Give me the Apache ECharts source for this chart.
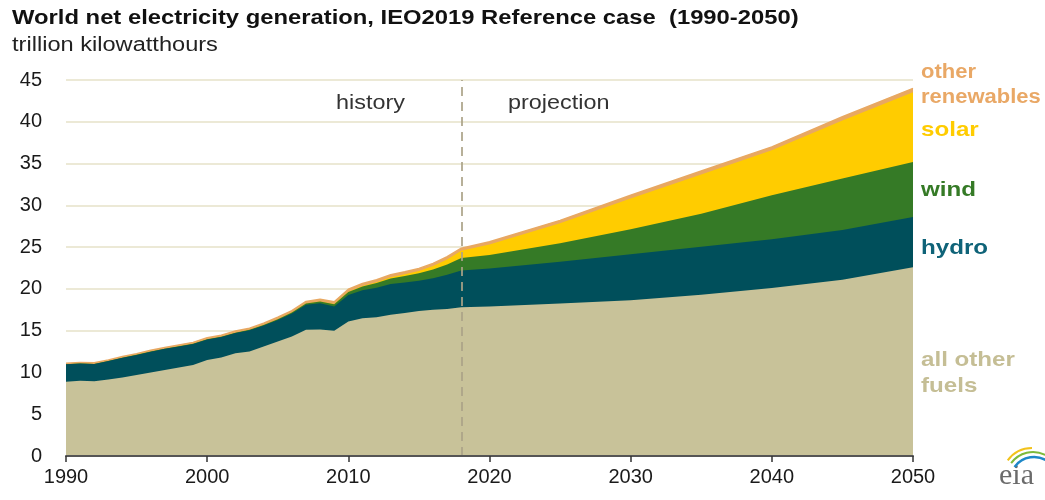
<!DOCTYPE html>
<html>
<head>
<meta charset="utf-8">
<script src="https://cdn.jsdelivr.net/npm/echarts@6/dist/echarts.min.js"></script>
<style>
html,body{margin:0;padding:0;background:#fff;}
#chart{width:1045px;height:500px;}
</style>
</head>
<body>
<div id="chart"></div>
<script>
// ---- data (trillion kWh) ----
var years = [1990,1991,1992,1993,1994,1995,1996,1997,1998,1999,
             2000,2001,2002,2003,2004,2005,2006,2007,2008,2009,
             2010,2011,2012,2013,2014,2015,2016,2017,2018,
             2020,2025,2030,2035,2040,2045,2050];
var allOtherFuels = [8.9,9.0,8.95,9.15,9.4,9.7,10.0,10.3,10.6,10.9,
                     11.5,11.8,12.3,12.5,13.1,13.7,14.3,15.1,15.15,15.0,
                     16.1,16.5,16.6,16.9,17.1,17.35,17.5,17.6,17.8,
                     17.9,18.25,18.65,19.3,20.1,21.1,22.6];
var hydro = [2.08,2.08,2.07,2.22,2.36,2.4,2.49,2.54,2.52,2.51,
             2.44,2.43,2.41,2.54,2.51,2.58,2.74,2.99,3.12,2.89,
             3.18,3.34,3.54,3.69,3.66,3.62,3.76,4.08,4.4,
             4.55,5.0,5.5,5.75,5.85,5.95,6.0];
var wind = [0,0,0,0,0,0.01,0.01,0.01,0.02,0.02,
            0.03,0.04,0.05,0.06,0.08,0.1,0.13,0.17,0.22,0.28,
            0.35,0.45,0.55,0.66,0.78,0.9,1.05,1.25,1.5,
            1.6,2.2,3.0,3.95,5.25,6.15,6.6];
var solar = [0,0,0,0,0,0,0,0,0,0,
             0,0,0,0,0,0,0,0,0.01,0.02,
             0.04,0.07,0.11,0.15,0.2,0.27,0.42,0.6,0.85,
             1.27,2.4,3.68,4.7,5.38,6.95,8.32];
var otherRenewables = [0.12,0.12,0.13,0.13,0.14,0.14,0.15,0.15,0.16,0.17,
                       0.18,0.18,0.19,0.2,0.21,0.22,0.23,0.24,0.25,0.26,
                       0.28,0.29,0.3,0.3,0.31,0.31,0.32,0.32,0.32,
                       0.33,0.35,0.37,0.4,0.42,0.45,0.48];
var seriesNames = ['all other fuels','hydro','wind','solar','other renewables'];
var yTicks = [0,5,10,15,20,25,30,35,40,45];
var xTicks = [1990,2000,2010,2020,2030,2040,2050];
var dividerYear = 2018;

var colors = {
  'all other fuels':'#C8C299',
  'hydro':'#004F5B',
  'wind':'#357A26',
  'solar':'#FFCC00',
  'other renewables':'#E8A862'
};

var valueSets = [allOtherFuels, hydro, wind, solar, otherRenewables];
// cumulative tops (bottom-up stacking done here; each area drawn from 0)
var cumulative = [];
valueSets.forEach(function(arr, k){
  cumulative.push(arr.map(function(v, i){
    return k === 0 ? v : +(cumulative[k-1][i] + v).toFixed(3);
  }));
});

var series = seriesNames.map(function(name, idx){
  var s = {
    name: name,
    type: 'line',
    data: years.map(function(y, i){ return [y, cumulative[idx][i]]; }),
    showSymbol: false,
    symbol: 'none',
    lineStyle: {width: 0, color: colors[name]},
    areaStyle: {color: colors[name], opacity: 1, origin: 'start'},
    itemStyle: {color: colors[name]},
    silent: true,
    z: 10 - idx
  };
  if (name === 'other renewables') {
    s.lineStyle = {width: 1.5, color: colors[name]};
  }
  return s;
});
// dashed history/projection divider, drawn on top
series.push({
  type: 'line', data: [], silent: true, z: 20,
  markLine: {
    silent: true,
    z: 30,
    symbol: ['none','none'],
    label: {show: false},
    lineStyle: {color: 'rgba(170,162,135,0.85)', type: [9,6], width: 2},
    data: [{xAxis: dividerYear}],
    animation: false
  }
});

var chart = echarts.init(document.getElementById('chart'), null, {renderer:'canvas'});
var font = 'Liberation Sans, Arial, sans-serif';
function label(txt, x, y, color, size, sx, bold, lh){
  return {type:'text', x: x, y: y, scaleX: sx, scaleY: 1, z: 50,
          style:{text: txt, fill: color, font: (bold ? 'bold ' : '') + size + 'px ' + font,
                 verticalAlign: 'top', align: 'left', lineHeight: lh || size}};
}
chart.setOption({
  animation: false,
  backgroundColor: '#ffffff',
  grid: {left: 66, right: 132, top: 80, bottom: 44, containLabel: false},
  xAxis: {
    type: 'value',
    min: xTicks[0], max: xTicks[xTicks.length-1], interval: 10,
    axisLine: {show: true, lineStyle: {color: '#555555', width: 2}},
    axisTick: {show: true, length: 6, lineStyle: {color: '#333333', width: 1.5}},
    axisLabel: {color: '#1a1a1a', fontSize: 20, fontFamily: font, margin: 11,
                formatter: function(v){ return String(v); }},
    splitLine: {show: false},
    z: 30
  },
  yAxis: {
    type: 'value',
    min: yTicks[0], max: yTicks[yTicks.length-1], interval: 5,
    axisLine: {show: false},
    axisTick: {show: false},
    axisLabel: {color: '#1a1a1a', fontSize: 20, fontFamily: font, margin: 24},
    splitLine: {show: true, lineStyle: {color: '#E6E2C9', width: 1.5}}
  },
  series: series,
  graphic: [
    label('World net electricity generation, IEO2019 Reference case  (1990-2050)', 12, 8, '#111', 20, 1.19, true),
    label('trillion kilowatthours', 12, 35, '#222', 20, 1.18, false),
    label('history', 336, 93, '#333', 20, 1.17, false),
    label('projection', 508, 93, '#333', 20, 1.17, false),
    label('other\nrenewables', 921, 60, '#E9A866', 20, 1.1, true, 25),
    label('solar', 921, 120, '#FFCC00', 21, 1.15, true),
    label('wind', 921, 180, '#357A26', 21, 1.15, true),
    label('hydro', 921, 238, '#0F6378', 21, 1.15, true),
    label('all other\nfuels', 921, 347, '#C5BE95', 21, 1.15, true, 26),
    {type:'text', x: 999, y: 461, style:{text:'eia', fill:'#6b6b6b', font:'30px Liberation Serif, DejaVu Serif, serif', verticalAlign:'top'}},
    {type:'arc', shape:{cx:1032, cy:478, r:30, startAngle: -Math.PI*0.8, endAngle: -Math.PI*0.5}, style:{stroke:'#F2C21B', lineWidth:2, fill:null}},
    {type:'arc', shape:{cx:1033, cy:479, r:27, startAngle: -Math.PI*0.8, endAngle: -Math.PI*0.35}, style:{stroke:'#7DBA3B', lineWidth:2, fill:null}},
    {type:'arc', shape:{cx:1034, cy:481, r:24, startAngle: -Math.PI*0.8, endAngle: -Math.PI*0.15}, style:{stroke:'#1E88C8', lineWidth:2.5, fill:null}}
  ]
});
</script>
</body>
</html>
